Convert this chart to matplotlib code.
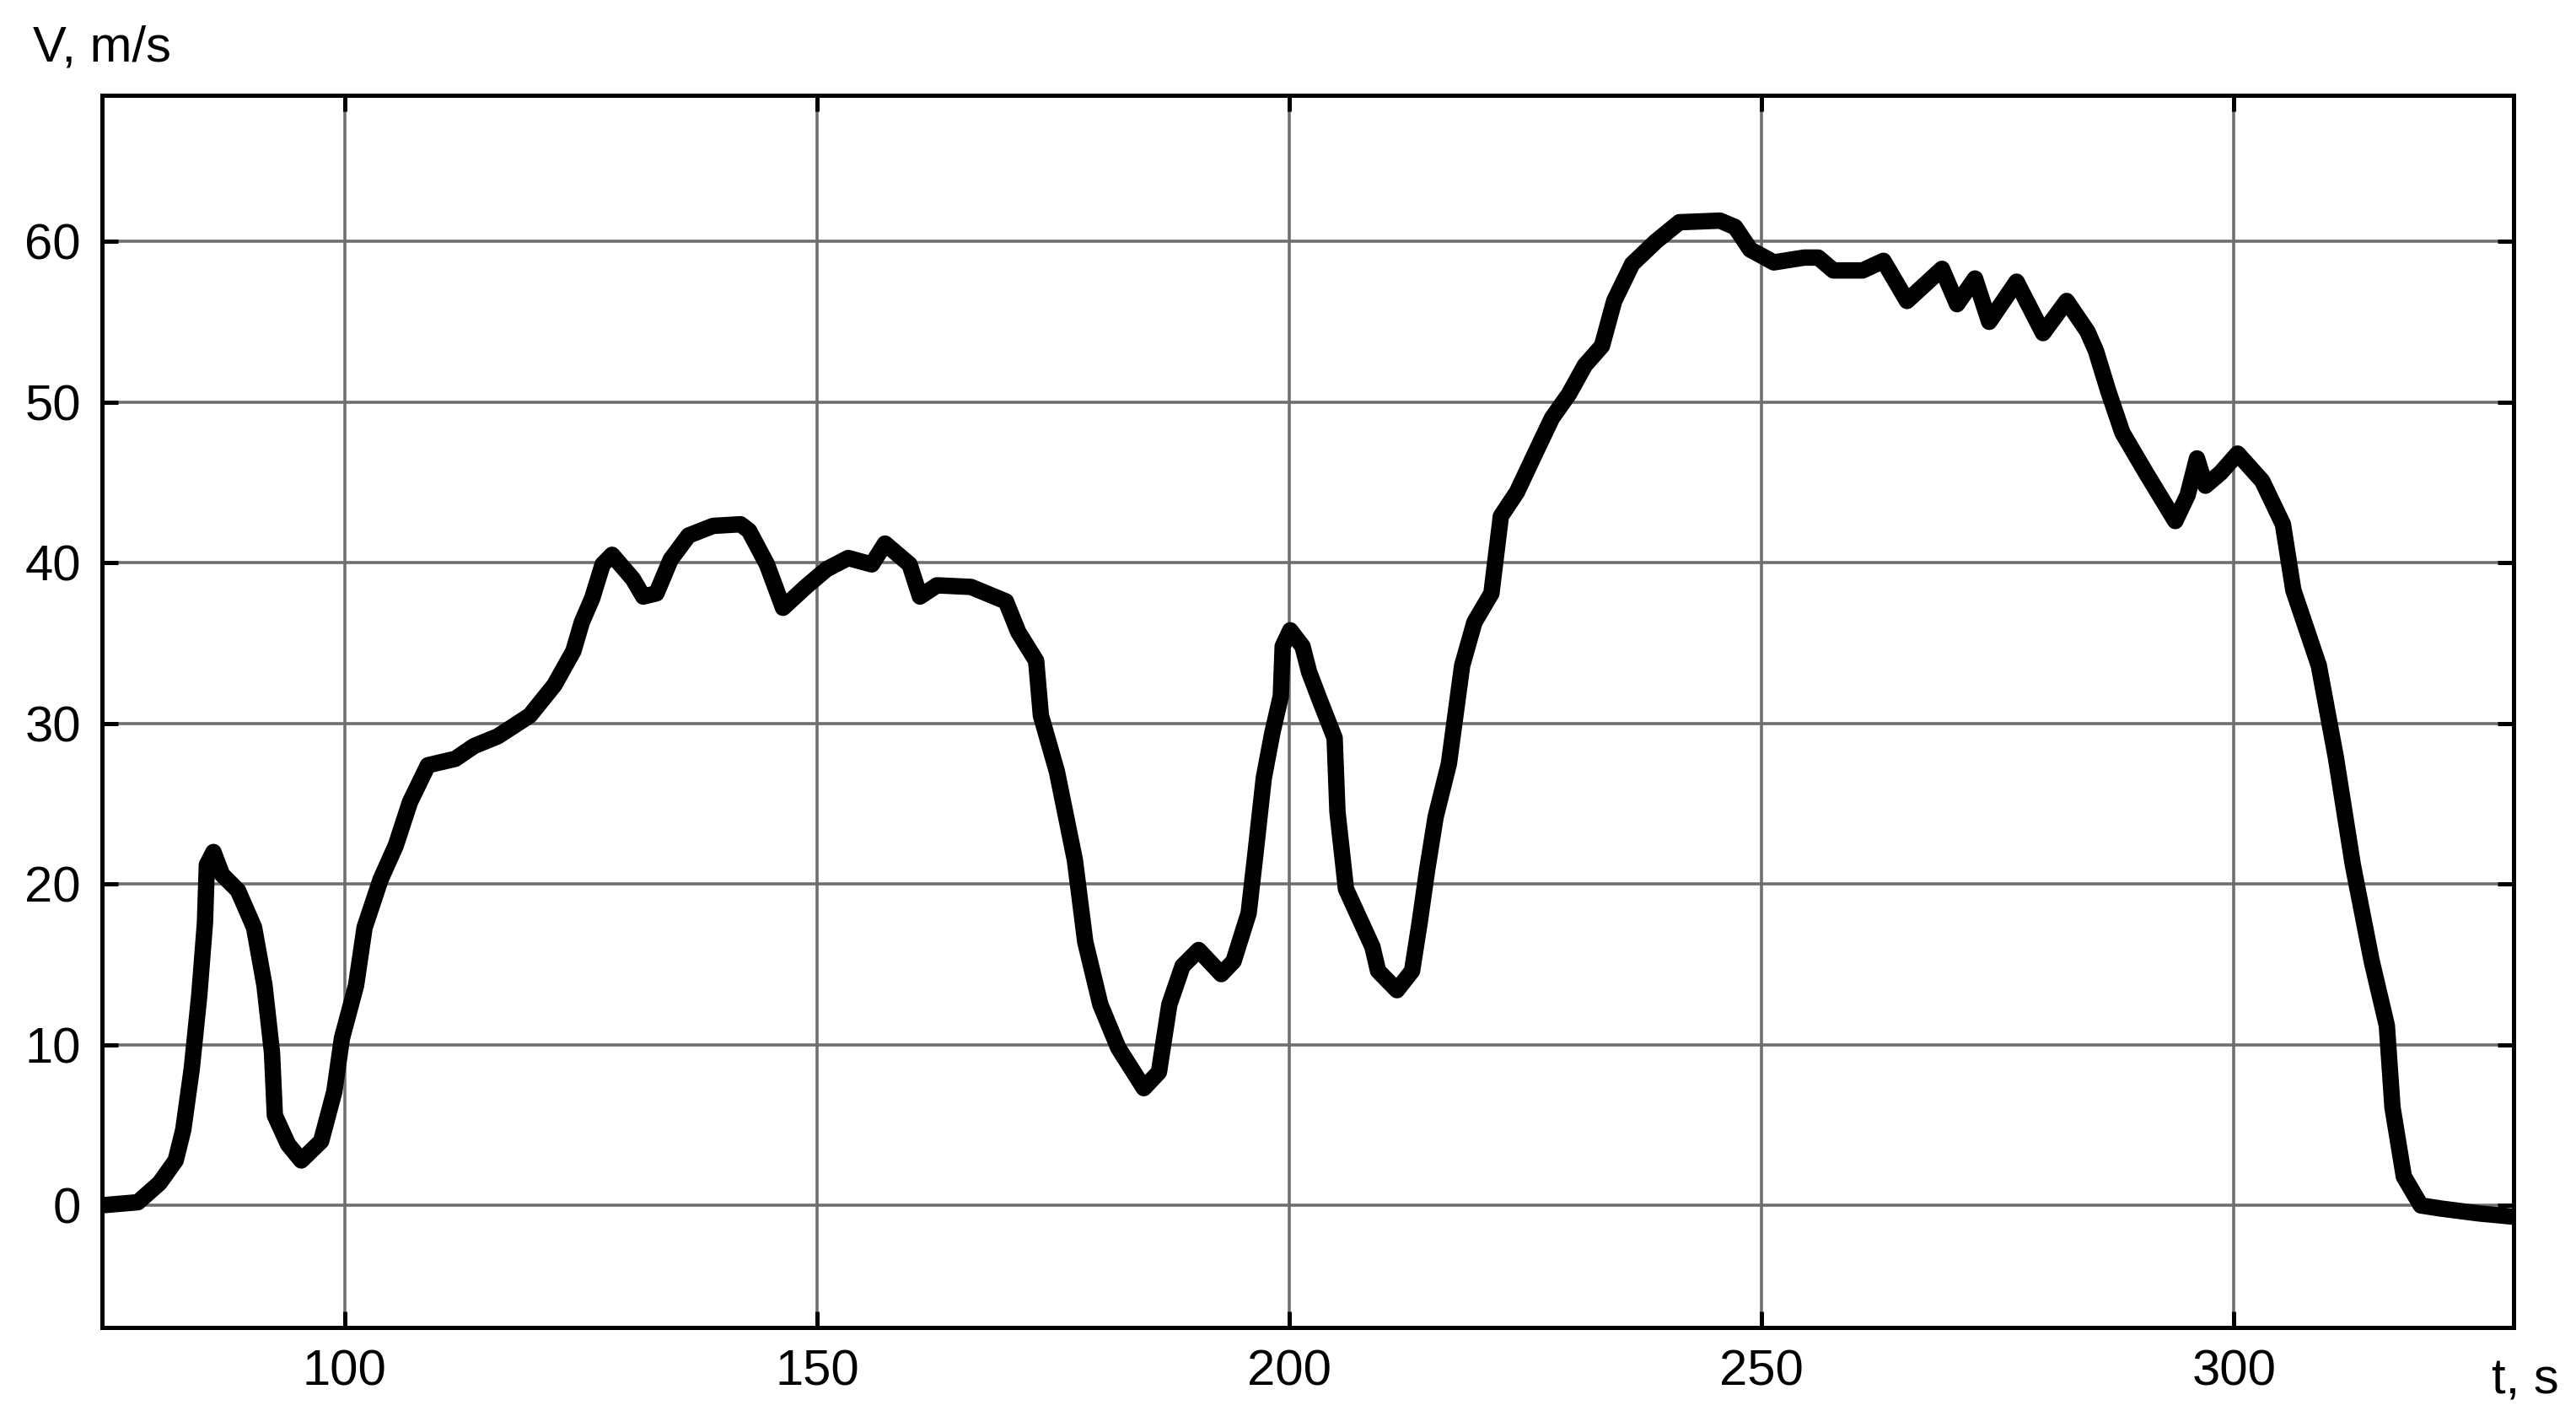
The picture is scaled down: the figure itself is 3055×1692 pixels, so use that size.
import numpy as np
import matplotlib.pyplot as plt

# speed trace
t = [74.1, 78.1, 80.4, 82.1, 82.9, 83.8, 84.6, 85.2, 85.4, 86.1, 87.0, 88.7,
     90.4, 91.5, 92.3, 92.6, 94.0, 95.4, 97.5, 98.9, 99.7, 101.2, 102.1,
     103.8, 105.4, 106.9, 108.8, 111.7, 113.7, 116.2, 119.6, 122.2, 124.2,
     125.1, 126.2, 127.3, 128.3, 130.5, 131.6, 133.0, 134.5, 136.4, 139.0,
     141.9, 142.8, 144.7, 146.4, 148.8, 151.0, 153.3, 155.8, 157.2, 159.8,
     160.9, 162.7, 166.3, 170.0, 171.3, 173.2, 173.7, 175.4, 177.3, 178.4,
     180.0, 181.9, 184.6, 186.2, 187.3, 188.7, 190.4, 192.8, 194.1, 195.7,
     196.4, 197.3, 198.2, 199.1, 199.3, 200.1, 201.4, 202.1, 203.2, 204.8,
     205.1, 206.0, 208.8, 209.4, 211.4, 213.0, 213.8, 214.6, 215.5, 216.9,
     218.3, 219.6, 221.4, 222.4, 224.1, 226.1, 227.8, 229.6, 231.3, 233.1,
     234.4, 236.3, 238.8, 241.3, 245.6, 247.2, 248.8, 251.3, 254.5, 256.0,
     257.6, 260.7, 262.9, 264.1, 265.4, 269.1, 270.7, 272.6, 274.1, 277.0,
     279.8, 282.3, 284.5, 285.4, 286.7, 288.2, 290.7, 293.8, 295.1, 296.1,
     297.0, 298.6, 300.4, 303.0, 305.2, 306.3, 309.0, 310.8, 312.6, 314.6,
     316.2, 316.8, 318.0, 319.8, 322.0, 326.0, 329.6]
v = [0.0, 0.2, 1.4, 2.8, 4.7, 8.5, 13.1, 17.6, 21.2, 22.0, 20.6, 19.6,
     17.3, 13.7, 9.5, 5.6, 3.8, 2.8, 4.0, 7.1, 10.4, 13.7, 17.3,
     20.3, 22.4, 25.1, 27.4, 27.8, 28.6, 29.2, 30.5, 32.4, 34.5,
     36.3, 37.8, 39.9, 40.5, 39.0, 37.9, 38.1, 40.2, 41.7, 42.3,
     42.4, 42.0, 39.9, 37.2, 38.5, 39.6, 40.3, 39.9, 41.2, 39.9,
     37.9, 38.6, 38.5, 37.6, 35.7, 33.9, 30.5, 27.0, 21.5, 16.4,
     12.5, 9.8, 7.3, 8.3, 12.5, 14.9, 15.9, 14.4, 15.2, 18.2,
     21.8, 26.6, 29.4, 31.7, 34.8, 35.8, 34.8, 33.2, 31.5, 29.1,
     24.5, 19.7, 16.1, 14.6, 13.4, 14.6, 17.6, 20.9, 24.2, 27.5,
     33.6, 36.3, 38.1, 42.9, 44.4, 46.9, 49.0, 50.5, 52.3, 53.5,
     56.3, 58.6, 60.0, 61.2, 61.3, 60.9, 59.5, 58.7, 59.0, 59.0,
     58.2, 58.2, 58.8, 57.6, 56.3, 58.3, 56.1, 57.7, 55.0, 57.5,
     54.3, 56.3, 54.4, 53.2, 50.7, 48.1, 45.6, 42.6, 44.2, 46.5,
     44.8, 45.6, 46.8, 45.1, 42.4, 38.3, 33.6, 27.9, 21.2, 15.2,
     11.2, 6.1, 1.8, 0.0, -0.2, -0.5, -0.7]

x_ticks = [100, 150, 200, 250, 300]
y_ticks = [0, 10, 20, 30, 40, 50, 60]

plt.rcParams['font.family'] = ['Liberation Sans', 'DejaVu Sans']

fig = plt.figure(figsize=(30.55, 16.92), dpi=100)
ax = fig.add_axes([0.0396, 0.0697, 0.9361, 0.8635])

ax.plot(t, v, color='black', lw=14, solid_joinstyle='round', solid_capstyle='round')

ax.set_xlim(74.3, 329.6)
ax.set_ylim(-7.6, 69.1)
ax.set_xticks(x_ticks)
ax.set_yticks(y_ticks)
ax.grid(True, color='#6e6e6e', lw=2.6)
ax.set_axisbelow(True)

for s in ax.spines.values():
    s.set_linewidth(3.6)
ax.tick_params(direction='in', length=14, width=3.6, top=True, right=True,
               labelsize=43, pad=18)

fig.text(39 / 3055, 1 - 72 / 1692, 'V, m/s', fontsize=43, va='baseline', ha='left')
fig.text(2955 / 3055, 1 - 1652 / 1692, 't, s', fontsize=43, va='baseline', ha='left')

fig.savefig('out.png', dpi=100)
